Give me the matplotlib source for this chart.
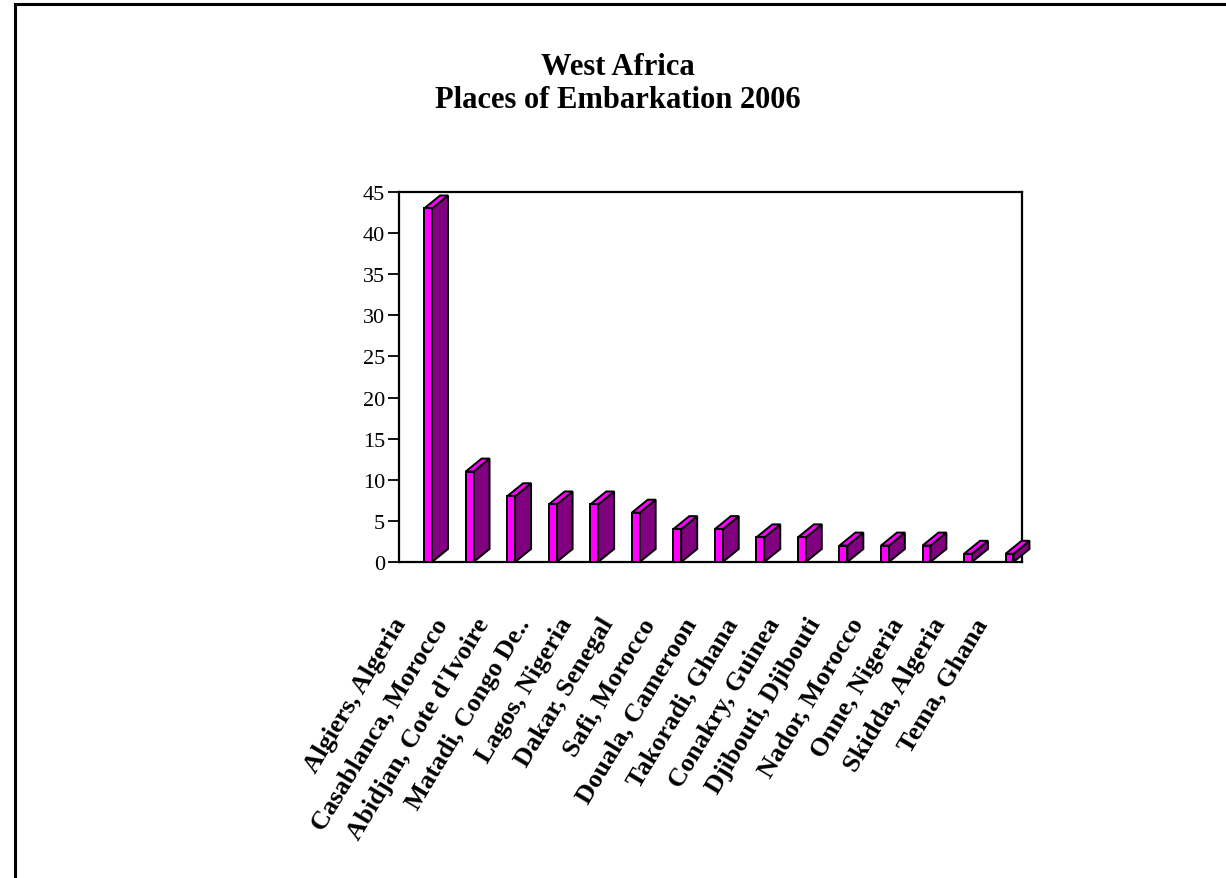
import matplotlib
matplotlib.use("Agg")
import matplotlib.pyplot as plt
from matplotlib.patches import Polygon
from matplotlib.lines import Line2D

plt.rcParams['font.family'] = ['Liberation Serif', 'DejaVu Serif']

ports = ["Algiers, Algeria", "Casablanca, Morocco", "Abidjan, Cote d'Ivoire",
         "Matadi, Congo De..", "Lagos, Nigeria", "Dakar, Senegal", "Safi, Morocco",
         "Douala, Cameroon", "Takoradi, Ghana", "Conakry, Guinea",
         "Djibouti, Djibouti", "Nador, Morocco", "Onne, Nigeria",
         "Skidda, Algeria", "Tema, Ghana"]
counts = [43, 11, 8, 7, 7, 6, 4, 4, 3, 3, 2, 2, 2, 1, 1]
yticks = [0, 5, 10, 15, 20, 25, 30, 35, 40, 45]

W, H = 1226, 879
fig = plt.figure(figsize=(W / 100, H / 100), dpi=100)
ax = fig.add_axes([399 / W, 1 - 563 / H, 623 / W, 370 / H])
ax.set_xlim(0, len(ports))
ax.set_ylim(0, 45)

front = "#FF00FF"
side = "#800080"
bw = 0.19      # front face width (category units)
ddx = 0.385    # depth offset in x
ddy = 1.58     # depth offset in y (value units)

for i, v in enumerate(counts):
    x0 = i + 0.7 - bw / 2
    x1 = x0 + bw
    faces = [
        ([(x1, 0), (x1 + ddx, ddy), (x1 + ddx, v + ddy), (x1, v)], side),
        ([(x0, v), (x1, v), (x1 + ddx, v + ddy), (x0 + ddx, v + ddy)], front),
        ([(x0, 0), (x1, 0), (x1, v), (x0, v)], front),
    ]
    for pts, c in faces:
        ax.add_patch(Polygon(pts, closed=True, facecolor=c, edgecolor="black",
                             linewidth=1.4, clip_on=False, zorder=3))

for s in ax.spines.values():
    s.set_linewidth(1.6)
ax.set_yticks(yticks)
ax.tick_params(axis='y', direction='out', length=8, width=1.3, labelsize=16, pad=2)
ax.set_xticks([])

# rotated category labels
for i, name in enumerate(ports):
    ax.text(i + 0.7 - 0.66, -0.155, name, transform=ax.get_xaxis_transform(),
            rotation=59, rotation_mode='anchor', ha='right', va='center',
            fontsize=19, fontweight='bold')

fig.text(0.504, 1 - 75 / H, "West Africa", ha='center', va='baseline',
         fontsize=22, fontweight='bold')
fig.text(0.504, 1 - 108 / H, "Places of Embarkation 2006", ha='center',
         va='baseline', fontsize=22, fontweight='bold')

# outer border (left and top visible)
fig.add_artist(Line2D([14.5 / W, 14.5 / W], [0, 1 - 5 / H], color='black',
                      linewidth=2.2, transform=fig.transFigure))
fig.add_artist(Line2D([14.5 / W, 1], [1 - 5 / H, 1 - 5 / H], color='black',
                      linewidth=2.2, transform=fig.transFigure))

fig.savefig("out.png", dpi=100)
